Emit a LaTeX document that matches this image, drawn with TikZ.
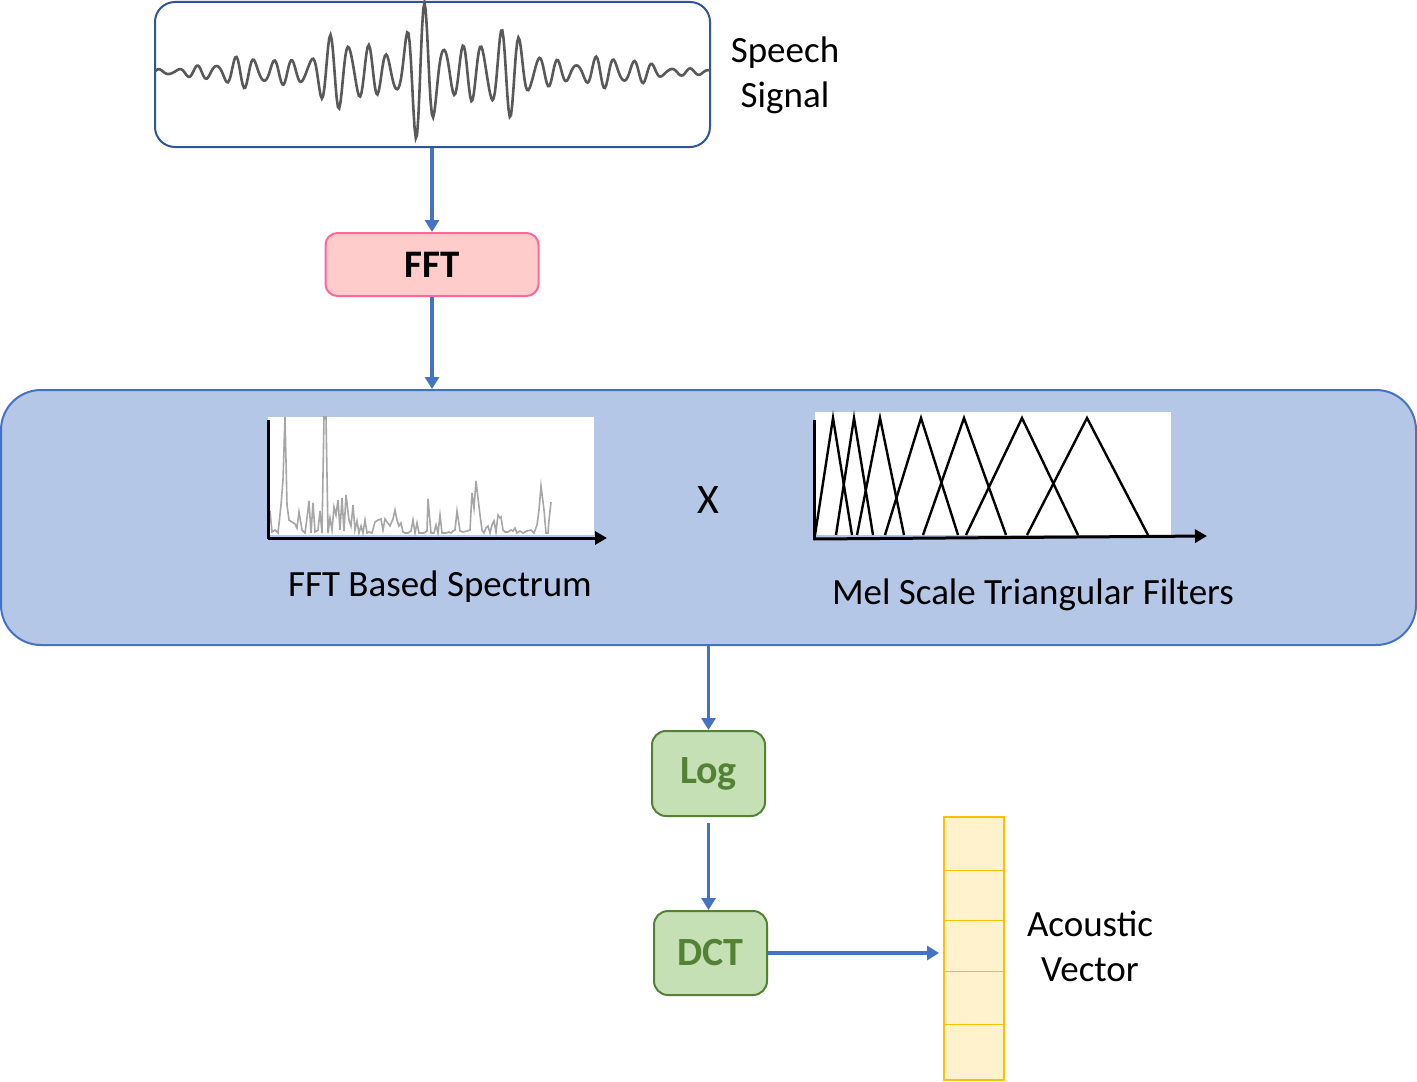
\documentclass[tikz,border=0pt]{standalone}
\usepackage{fontspec}
\setmainfont{Carlito}
\usetikzlibrary{arrows.meta}
\definecolor{sigblue}{HTML}{2F5597}
\definecolor{flowblue}{HTML}{4472C4}
\definecolor{bankfill}{HTML}{B4C7E7}
\definecolor{fftfill}{HTML}{FFCCCC}
\definecolor{fftdraw}{HTML}{FF6699}
\definecolor{logfill}{HTML}{C5E0B4}
\definecolor{logdraw}{HTML}{538135}
\definecolor{vecfill}{HTML}{FFF2CC}
\definecolor{vecdraw}{HTML}{FFC000}

\begin{document}
\begin{tikzpicture}[x={(0.5pt,0)}, y={(0,-0.5pt)},
  declare function={g(\t)=exp(-min(\t*\t,20));
    env(\u)=3+14*g((\u-95)/45)+40*g((\u-190)/35)+68*g((\u-267)/25)+45*g((\u-345)/40)+14*g((\u-455)/45);},
  flow/.style={draw=flowblue, line width=1.7pt, -{Triangle[length=6pt,width=7pt]}},
  axis/.style={line width=1.5pt, -{Triangle[length=6pt,width=6.5pt]}},
  greenbox/.style={draw=logdraw, line width=1pt, fill=logfill, rounded corners=7pt,
    minimum width=56.5pt, minimum height=42.5pt, text=logdraw,
    font=\fontsize{20}{24}\selectfont\bfseries},
  caption/.style={font=\fontsize{18.5}{22.5}\selectfont, align=center},
  plotbg/.style={fill=white, draw=none}
]
\useasboundingbox (0,0) rectangle (1417,1081);

% input signal
\node[draw=sigblue, line width=1pt, rounded corners=10pt, minimum width=277.5pt,
  minimum height=72.5pt] (speech) at (432.5,74.5) {};
\draw[gray!70!black, line width=1.3pt] plot[domain=0:555, samples=450]
  ({155+\x}, {72-env(\x)*(sin(19*\x)+0.3*sin(27*\x+40))/1.3});
\node[caption] (speechtxt) at (785,75) {Speech\\Signal};

% FFT
\node[draw=fftdraw, line width=1pt, fill=fftfill, rounded corners=6pt, minimum width=106.5pt,
  minimum height=31.5pt, font=\fontsize{19.5}{23}\selectfont\bfseries] (fft) at (432,264.5) {FFT};

% filter bank block
\node[draw=flowblue, line width=1pt, fill=bankfill, rounded corners=20pt, minimum width=707.5pt,
  minimum height=127.5pt] (bank) at (708.5,517.5) {};

% spectrum
\fill[plotbg] (268,417) rectangle (594,535);
\draw[gray!70, line width=0.8pt] plot coordinates {
 (270,511) (272,532) (275,530) (278,533) (281,505) (283,480) (285,417) (287,505) (289,520)
 (292,522) (295,524) (297,528) (299,512) (302,530) (305,533) (307,518) (309,501) (311,533)
 (313,503) (315,532) (318,530) (320,511) (322,533) (324,417) (326,417) (328,533) (330,518)
 (332,530) (334,507) (336,515) (338,500) (340,530) (342,498) (344,531) (346,495) (349,520)
 (351,526) (353,505) (355,530) (357,521) (359,533) (361,526) (363,533) (365,520) (367,533)
 (369,532) (372,533) (375,522) (378,520) (381,519) (383,530) (385,519) (387,522) (390,526)
 (393,519) (395,510) (397,520) (399,526) (401,523) (403,532) (405,533) (408,533) (411,531)
 (413,520) (415,533) (417,523) (419,533) (421,533) (424,533) (427,531) (428,499) (431,533)
 (434,533) (436,525) (438,533) (440,515) (442,533) (446,533) (449,532) (451,533) (453,531)
 (455,530) (457,511) (460,531) (463,532) (467,531) (470,530) (472,493) (474,508) (476,481)
 (480,515) (482,530) (484,533) (486,528) (488,526) (490,533) (492,525) (494,521) (496,532)
 (498,515) (500,518) (501,517) (503,530) (505,532) (508,532) (511,530) (513,531) (515,528)
 (517,533) (520,531) (523,533) (527,531) (531,530) (534,533) (537,525) (539,510) (541,486)
 (544,510) (546,533) (548,533) (549,520) (551,502)};
\draw[line width=1.5pt] (268,420) -- (268,539);
\coordinate (specend) at (607,538);
\draw[axis] (267.5,538) -- (specend);
\node[caption] (spectxt) at (440,587) {FFT Based Spectrum};

\node[font=\fontsize{21}{24}\selectfont] (times) at (708,500) {X};

% mel filters
\fill[plotbg] (815,412) rectangle (1171,535);
\foreach \l/\p/\r in {815/833/852, 836/854/873, 857/880/904, 885/921/958,
                      923/964/1006, 966/1022/1078, 1027/1087/1148}
  \draw[line width=1.2pt, line join=miter] (\l,535) -- (\p,418) -- (\r,535);
\draw[line width=1.5pt] (814,420) -- (814,540);
\coordinate (melend) at (1207,536);
\draw[axis] (813.5,539) -- (melend);
\node[caption] (meltxt) at (1033,595) {Mel Scale Triangular Filters};

% log and dct
\node[greenbox] (log) at (708.5,773.5) {Log};
\node[greenbox, minimum height=42pt] (dct) at (710.5,953) {DCT};

% acoustic vector
\node[draw=vecdraw, line width=1pt, fill=vecfill, minimum width=30pt, minimum height=131.5pt,
  inner sep=0pt] (vec) at (974,948.5) {};
\foreach \y in {870,920,971,1024}
  \draw[vecdraw, line width=0.5pt] (944,\y) -- (1004,\y);
\node[caption] (vectxt) at (1090,946) {Acoustic\\Vector};

% connectors
\draw[flow] (speech.south -| fft.north) -- (fft.north);
\draw[flow] (fft.south) -- (fft.south |- bank.north);
\draw[flow] (bank.south -| log.north) -- (log.north);
\draw[flow, shorten <=3pt] (log.south) -- (log.south |- dct.north);
\draw[flow, shorten >=2pt] (dct.east) -- (vec.west |- dct.east);
\end{tikzpicture}
\end{document}
